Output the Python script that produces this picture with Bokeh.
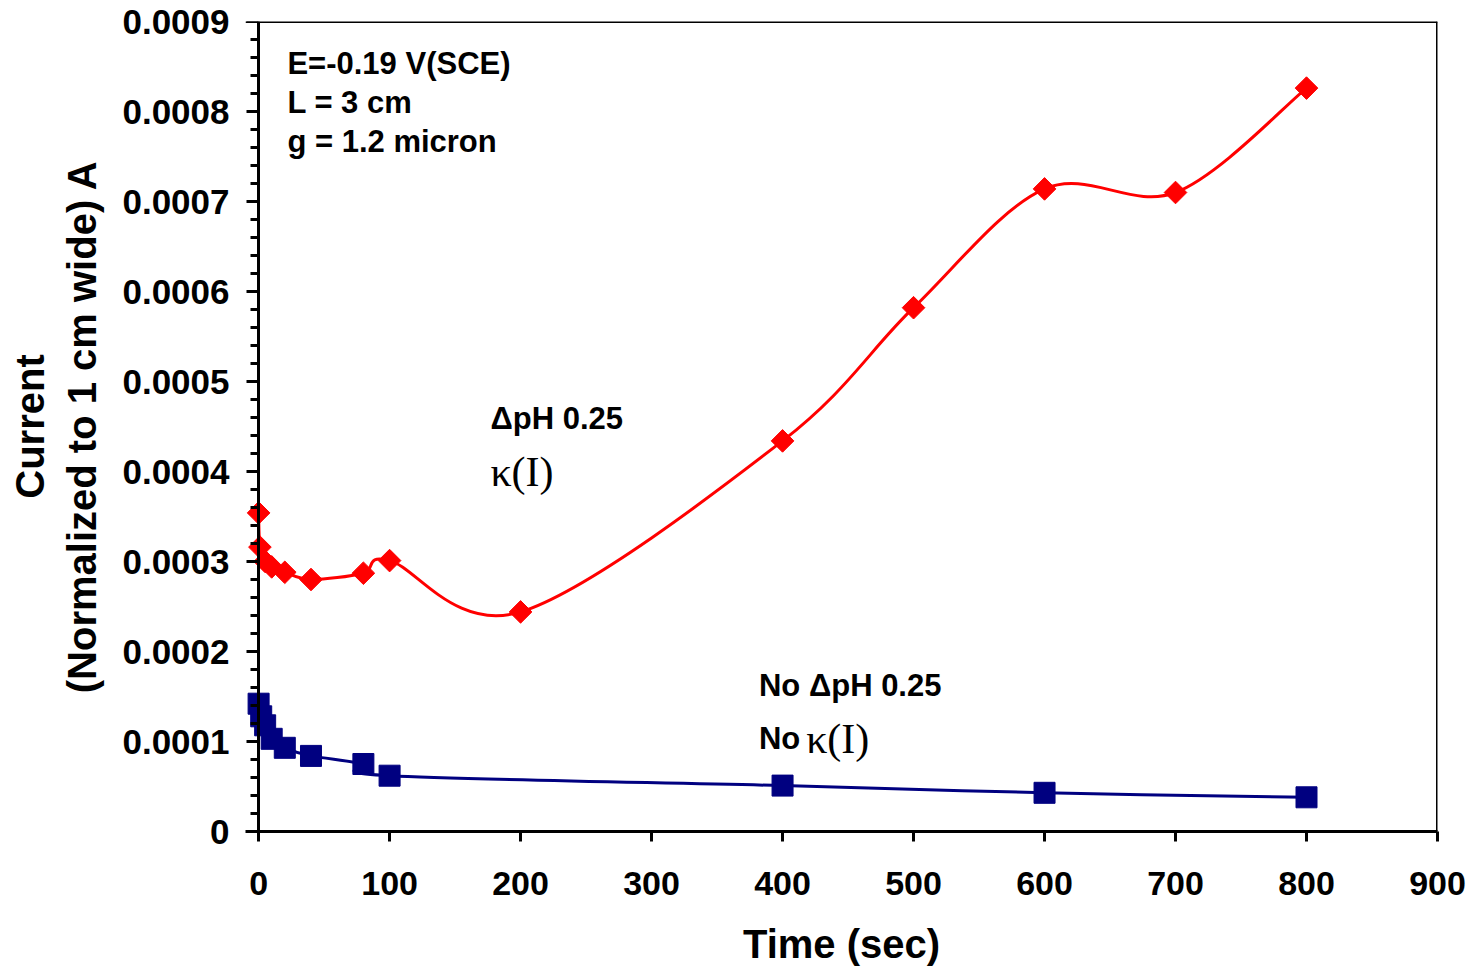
import math
from bokeh.plotting import figure
from bokeh.models import (FixedTicker, CustomJSTickFormatter, Label, Range1d, Span,
                          LinearAxis)
from bokeh.embed import file_html
from bokeh.resources import INLINE

# ---- data ----
red_t = [0, 1, 5, 10, 20, 40, 80, 100, 200, 400, 500, 600, 700, 800]
red_i = [0.000354, 0.000316, 0.000300, 0.000294, 0.000288, 0.000280, 0.000287,
         0.000301, 0.000244, 0.000434, 0.000582, 0.000714, 0.000710, 0.000826]
blue_t = [0, 2, 5, 10, 20, 40, 80, 100, 400, 600, 800]
blue_i = [0.000142, 0.000128, 0.000118, 0.000103, 0.000093, 0.000084, 0.000075,
          0.000062, 0.000051, 0.000043, 0.000038]
x_ticks = [0, 100, 200, 300, 400, 500, 600, 700, 800, 900]
y_ticks = [0, 0.0001, 0.0002, 0.0003, 0.0004, 0.0005, 0.0006, 0.0007, 0.0008, 0.0009]
y_minor = [i * 0.00002 for i in range(46)]


def smooth_segments(xs, ys):
    """Catmull-Rom style Bezier control points (Excel-like smoothed line)."""
    n = len(xs)
    out = dict(x0=[], y0=[], x1=[], y1=[], cx0=[], cy0=[], cx1=[], cy1=[])
    for i in range(n - 1):
        p0 = (xs[max(i - 1, 0)], ys[max(i - 1, 0)])
        p1 = (xs[i], ys[i])
        p2 = (xs[i + 1], ys[i + 1])
        p3 = (xs[min(i + 2, n - 1)], ys[min(i + 2, n - 1)])
        out["x0"].append(p1[0]); out["y0"].append(p1[1])
        out["x1"].append(p2[0]); out["y1"].append(p2[1])
        out["cx0"].append(p1[0] + (p2[0] - p0[0]) / 6)
        out["cy0"].append(p1[1] + (p2[1] - p0[1]) / 6)
        out["cx1"].append(p2[0] - (p3[0] - p1[0]) / 6)
        out["cy1"].append(p2[1] - (p3[1] - p1[1]) / 6)
    return out


RED = "#FF0000"
BLUE = "#000080"
FONT = "Liberation Sans"

X_PAD = -10  # range starts a little left of 0 so markers at t=0 are not clipped

p = figure(width=1471, height=970, output_backend="svg", toolbar_location=None,
           x_range=Range1d(X_PAD, 900), y_range=Range1d(0, 0.0009),
           min_border_left=245, min_border_right=34, min_border_top=21,
           min_border_bottom=139)
p.xgrid.visible = False
p.ygrid.visible = False
p.outline_line_color = None
p.background_fill_color = "white"
p.border_fill_color = "white"

# frame top and right borders
p.add_layout(Span(location=0.0009, dimension="width", line_color="black", line_width=3))
p.add_layout(Span(location=900, dimension="height", line_color="black", line_width=3))

# smoothed lines
rs = smooth_segments(red_t, red_i)
p.bezier(**rs, line_color=RED, line_width=3)
bs = smooth_segments(blue_t, blue_i)
p.bezier(**bs, line_color=BLUE, line_width=3)

p.scatter(red_t, red_i, marker="square", angle=math.pi / 4, size=16,
          fill_color=RED, line_color=RED)
p.scatter(blue_t, blue_i, marker="square", size=21,
          fill_color=BLUE, line_color=BLUE)

# x axis
xa = p.xaxis[0]
xa.axis_line_width = 3
xa.axis_line_color = "black"
xa.major_tick_line_width = 3
xa.major_tick_in = 0
xa.major_tick_out = 10
xa.ticker = FixedTicker(ticks=x_ticks)
xa.minor_tick_line_color = None
xa.major_label_text_font = FONT
xa.major_label_text_font_style = "bold"
xa.major_label_text_font_size = "34px"
xa.major_label_text_color = "black"
xa.major_label_standoff = 30
xa.axis_label = "Time (sec)"
xa.axis_label_standoff = 24
xa.axis_label_text_font = FONT
xa.axis_label_text_font_style = "bold"
xa.axis_label_text_font_size = "40px"
xa.axis_label_text_color = "black"

# y axis line + ticks, drawn at t = 0
ya = p.yaxis[0]
ya.fixed_location = 0
ya.ticker = FixedTicker(ticks=y_ticks, minor_ticks=y_minor)
ya.axis_line_width = 3
ya.axis_line_color = "black"
ya.major_tick_line_width = 3
ya.major_tick_in = 0
ya.major_tick_out = 12
ya.minor_tick_line_width = 3
ya.minor_tick_in = 0
ya.minor_tick_out = 8
ya.major_label_standoff = 0
ya.formatter = CustomJSTickFormatter(code="return '';")

# y axis labels + title (separate axis in the left panel)
yl = LinearAxis(ticker=FixedTicker(ticks=y_ticks),
                formatter=CustomJSTickFormatter(code="return tick == 0 ? '0' : tick.toFixed(4);"))
yl.axis_line_color = None
yl.major_tick_line_color = None
yl.minor_tick_line_color = None
yl.major_tick_in = 0
yl.major_tick_out = 0
yl.major_label_standoff = 16
yl.major_label_text_font = FONT
yl.major_label_text_font_style = "bold"
yl.major_label_text_font_size = "35px"
yl.major_label_text_color = "black"
yl.axis_label = "Current\n(Normalized to 1 cm wide) A"
yl.axis_label_standoff = 15
yl.axis_label_text_font = FONT
yl.axis_label_text_font_style = "bold"
yl.axis_label_text_font_size = "40px"
yl.axis_label_text_color = "black"
p.add_layout(yl, "left")

# annotations
def lab(x, y, text, size="31px", font=FONT, style="bold"):
    p.add_layout(Label(x=x, y=y, text=text, text_font=font, text_font_style=style,
                       text_font_size=size, text_color="black",
                       text_baseline="alphabetic", text_align="left"))

lab(22, 0.000853, "E=-0.19 V(SCE)")
lab(22, 0.000810, "L = 3 cm")
lab(22, 0.000767, "g = 1.2 micron")
lab(177, 0.000459, "ΔpH 0.25")
lab(177, 0.000400, "κ(I)", size="42px", font="Liberation Serif", style="normal")
lab(382, 0.000162, "No ΔpH 0.25")
lab(382, 0.000103, "No")
lab(418, 0.000103, "κ(I)", size="42px", font="Liberation Serif", style="normal")

open("out.html", "w").write(file_html(p, INLINE))
